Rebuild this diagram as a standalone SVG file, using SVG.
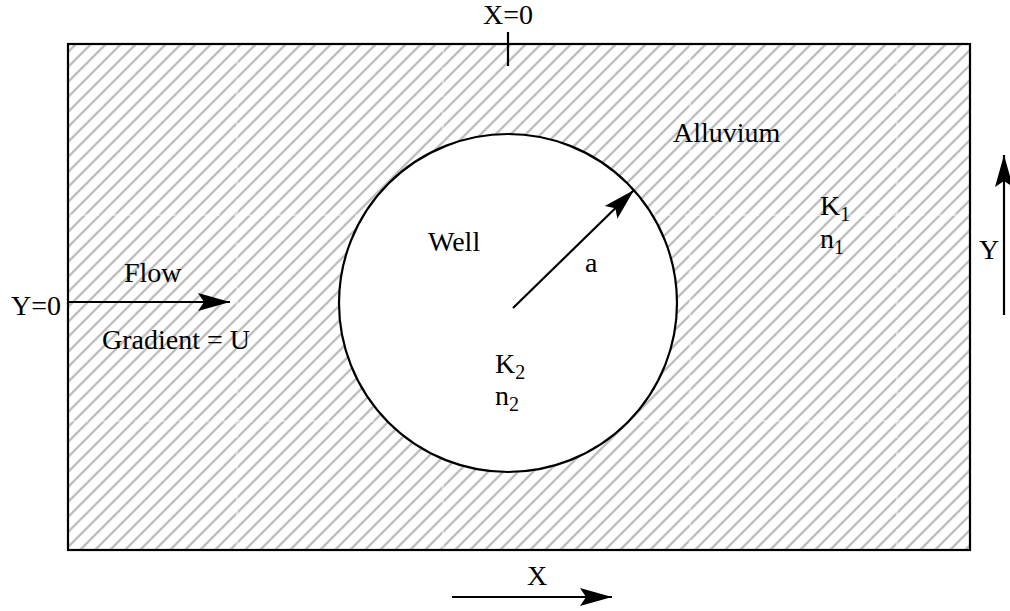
<svg xmlns="http://www.w3.org/2000/svg" width="1010" height="611" viewBox="0 0 1010 611">
<style>
text{font-family:"Liberation Serif","Times New Roman",serif;font-size:28px;fill:#000}
.sub{font-size:20px}
.ln{stroke:#000;stroke-width:2.2;fill:none}
.wellc{stroke:#000;stroke-width:2.2;fill:#fff}
.seam{stroke:#fff;stroke-width:1;stroke-dasharray:8 3;opacity:0.9}
</style>
<defs>
<pattern id="hatch" patternUnits="userSpaceOnUse" width="15" height="15">
<path d="M-2,2 L2,-2 M0,15 L15,0 M13,17 L17,13" stroke="#c0c0c0" stroke-width="2.4"/>
</pattern>
<marker id="ah" markerUnits="userSpaceOnUse" markerWidth="40" markerHeight="24" viewBox="-34 -12 36 24" refX="0" refY="0" orient="auto">
<path d="M0,0 L-32,-9 L-26,0 L-32,9 Z" fill="#000"/>
</marker>
</defs>
<g id="alluvium">
<rect x="68" y="44" width="902" height="506" fill="url(#hatch)"/>
<g class="seam">
<line x1="237" y1="45" x2="237" y2="549"/>
<line x1="443" y1="45" x2="443" y2="549"/>
<line x1="690" y1="45" x2="690" y2="549"/>
<line x1="897" y1="45" x2="897" y2="549"/>
<line x1="69" y1="215" x2="969" y2="215"/>
<line x1="69" y1="421" x2="969" y2="421"/>
</g>
<rect x="68" y="44" width="902" height="506" class="ln"/>
<text x="673" y="142">Alluvium</text>
<text x="820" y="215">K<tspan class="sub" dy="6">1</tspan></text>
<text x="820" y="248">n<tspan class="sub" dy="6">1</tspan></text>
</g>
<g id="well">
<circle cx="508" cy="303" r="169" class="wellc"/>
<text x="428" y="251">Well</text>
<text x="585" y="272">a</text>
<text x="495" y="373">K<tspan class="sub" dy="6">2</tspan></text>
<text x="495" y="405">n<tspan class="sub" dy="6">2</tspan></text>
</g>
<g id="axes">
<line x1="508" y1="32" x2="508" y2="66" class="ln"/>
<text x="508" y="24" text-anchor="middle">X=0</text>
<text x="61" y="315" text-anchor="end">Y=0</text>
<text x="979" y="259">Y</text>
<text x="527" y="585">X</text>
<text x="124" y="282">Flow</text>
<text x="102" y="349">Gradient = U</text>
</g>
<g id="connectors">
<line x1="68" y1="302" x2="230" y2="302" class="ln" marker-end="url(#ah)"/>
<line x1="513" y1="308" x2="634" y2="190" class="ln" marker-end="url(#ah)"/>
<line x1="1004" y1="315" x2="1004" y2="155" class="ln" marker-end="url(#ah)"/>
<line x1="452" y1="597" x2="612" y2="597" class="ln" marker-end="url(#ah)"/>
</g>
</svg>
